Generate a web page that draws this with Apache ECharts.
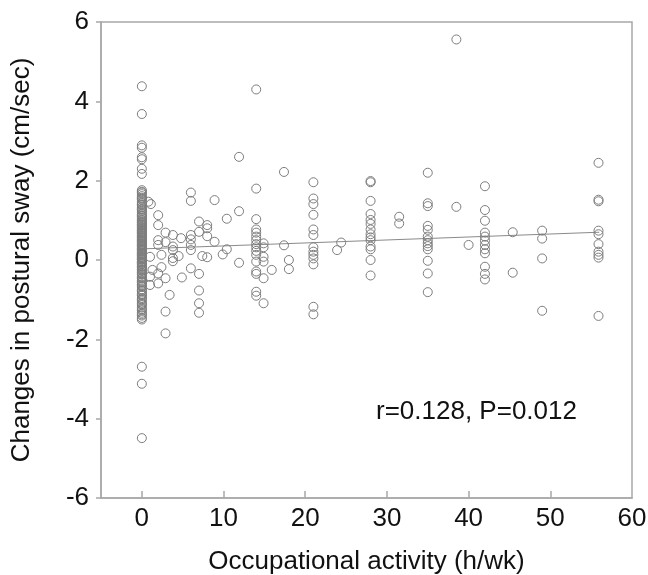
<!DOCTYPE html>
<html>
<head>
<meta charset="utf-8">
<script src="https://cdn.jsdelivr.net/npm/echarts@6/dist/echarts.min.js"></script>
<style>
html,body{margin:0;padding:0;background:#fff;}
#chart{width:648px;height:575px;}
</style>
</head>
<body>
<div id="chart"></div>
<script>
// ---- Data ----
const xTickLabels = [0, 10, 20, 30, 40, 50, 60];
const yTickLabels = [-6, -4, -2, 0, 2, 4, 6];

// column at 0 h/wk
const col0 = [4.38, 3.68, 2.89, 2.83, 2.59, 2.54, 2.30, 2.17,
  1.76, 1.70, 1.66, 1.61, 1.57, 1.52, 1.47, 1.43, 1.38, 1.33, 1.29, 1.24, 1.19, 1.15, 1.10, 1.06,
  1.02, 0.97, 0.93, 0.90, 0.86, 0.81, 0.78, 0.74, 0.70, 0.66, 0.63, 0.59, 0.55, 0.52, 0.48, 0.44,
  0.41, 0.37, 0.33, 0.30, 0.26, 0.22, 0.19, 0.15, 0.11, 0.08, 0.04, 0.01, -0.03, -0.07, -0.11,
  -0.15, -0.19, -0.23, -0.28, -0.32, -0.37, -0.42, -0.47, -0.52, -0.57, -0.62, -0.68, -0.74,
  -0.79, -0.85, -0.90, -0.96, -1.02, -1.08, -1.14, -1.20, -1.27, -1.33, -1.40, -1.46,
  -2.69, -3.12, -4.49];
// further overlapping values in the dense part of the 0 h/wk column
const col0b = [1.72, 1.55, 1.40, 1.27, 1.12, 1.00, 0.95, 0.88, 0.83, 0.76, 0.72, 0.68, 0.61,
  0.57, 0.50, 0.46, 0.39, 0.35, 0.28, 0.24, 0.17, 0.13, 0.06, 0.02, -0.05, -0.09, -0.17, -0.25,
  -0.35, -0.45, -0.55, -0.65, -0.77, -0.88, -0.99, -1.11, -1.24, -1.37, -1.50];

// scattered low-activity points [hours, change]
const lowPts = [
  [0.8, 1.47], [1.1, 1.41], [6.0, 1.70], [6.0, 1.49], [8.9, 1.51], [11.9, 2.60], [11.9, 1.23],
  [10.4, 1.04], [2.0, 1.13], [2.0, 0.88], [7.0, 0.97], [8.0, 0.88], [8.0, 0.80], [7.0, 0.71],
  [2.9, 0.69], [3.8, 0.63], [4.8, 0.55], [6.0, 0.63], [6.0, 0.52], [8.0, 0.60], [8.9, 0.46],
  [2.0, 0.50], [2.0, 0.38], [2.9, 0.45], [3.8, 0.34], [3.8, 0.25], [6.0, 0.38], [6.0, 0.25],
  [10.4, 0.27], [9.9, 0.14], [11.9, -0.07], [1.0, 0.08], [2.4, 0.13], [3.8, 0.05], [3.8, -0.03],
  [4.5, 0.10], [7.4, 0.10], [8.0, 0.07], [1.3, -0.25], [2.4, -0.18], [6.0, -0.21], [1.0, -0.42],
  [2.0, -0.34], [2.9, -0.46], [4.9, -0.44], [7.0, -0.35], [1.0, -0.63], [2.0, -0.59],
  [3.4, -0.88], [7.0, -0.77], [7.0, -1.09], [7.0, -1.33], [2.9, -1.30], [2.9, -1.85]
];

const col14 = [4.30, 1.80, 1.03, 0.77, 0.69, 0.59, 0.50, 0.40, 0.32, 0.23, 0.13, -0.04, -0.29, -0.35, -0.80, -0.90];
const col15 = [0.42, 0.32, 0.08, -0.04, -0.46, -1.09];
const midPts = [[15.9, -0.25], [17.4, 2.22], [17.4, 0.37], [18.0, 0.00], [18.0, -0.23],
  [24.4, 0.44], [23.9, 0.25], [31.5, 1.09], [31.5, 0.92], [38.5, 5.56], [38.5, 1.34], [40.0, 0.38],
  [45.4, 0.70], [45.4, -0.32]];
const col21 = [1.96, 1.55, 1.41, 1.14, 0.77, 0.63, 0.32, 0.21, 0.13, 0.04, -0.11, -1.18, -1.37];
const col28 = [1.99, 1.96, 1.49, 1.16, 1.01, 0.91, 0.77, 0.65, 0.57, 0.50, 0.34, 0.27, 0.00, -0.39];
const col35 = [2.20, 1.43, 1.36, 0.86, 0.76, 0.59, 0.50, 0.42, 0.35, 0.27, -0.02, -0.34, -0.81];
const col42 = [1.86, 1.26, 0.99, 0.69, 0.59, 0.49, 0.38, 0.27, 0.17, -0.17, -0.35, -0.49];
const col49 = [0.74, 0.54, 0.04, -1.28];
const col56 = [2.45, 1.52, 1.48, 0.74, 0.65, 0.40, 0.21, 0.13, 0.06, -1.41];

// regression line end points
const fitLine = [[0, 0.28], [56, 0.70]];
const statText = 'r=0.128, P=0.012';

// ---- Build ----
function col(x, ys) { return ys.map(y => [x, y]); }
const points = [].concat(
  col(0, col0), col(0, col0b), lowPts, col(14, col14), col(14.9, col15), midPts,
  col(21, col21), col(28, col28), col(35, col35), col(42, col42),
  col(49, col49), col(55.9, col56)
);

const FONT = "'Liberation Sans', Arial, sans-serif";
const AXIS_COLOR = '#a8a8a8';
const chart = echarts.init(document.getElementById('chart'));
chart.setOption({
  animation: false,
  backgroundColor: '#fff',
  grid: { left: 101, top: 22, width: 531, height: 476, show: true, borderColor: AXIS_COLOR, borderWidth: 1.5,
          containLabel: false, outerBoundsMode: 'none' },
  xAxis: {
    type: 'value', min: -5, max: 60,
    name: 'Occupational activity (h/wk)', nameLocation: 'middle', nameGap: 51,
    nameTextStyle: { fontFamily: FONT, fontSize: 26, color: '#111' },
    axisLine: { show: true, onZero: false, lineStyle: { color: AXIS_COLOR, width: 1.5 } },
    axisTick: { show: true, inside: true, length: 7, customValues: [0, 10, 20, 30, 40, 50], lineStyle: { color: AXIS_COLOR, width: 1.5 } },
    axisLabel: { customValues: xTickLabels, fontFamily: FONT, fontSize: 26, color: '#111', margin: 8 },
    splitLine: { show: false }
  },
  yAxis: {
    type: 'value', min: -6, max: 6, interval: 2,
    name: 'Changes in postural sway (cm/sec)', nameLocation: 'middle', nameGap: 66, nameRotate: 90,
    nameTextStyle: { fontFamily: FONT, fontSize: 26, color: '#111' },
    axisLine: { show: true, onZero: false, lineStyle: { color: AXIS_COLOR, width: 1.5 } },
    axisTick: { show: true, inside: false, length: 5, lineStyle: { color: AXIS_COLOR, width: 1.5 } },
    axisLabel: { fontFamily: FONT, fontSize: 26, color: '#111', margin: 12 },
    splitLine: { show: false }
  },
  series: [
    {
      type: 'scatter', data: points, symbol: 'circle', symbolSize: 9,
      itemStyle: { color: 'rgba(255,255,255,0)', borderColor: '#7d7d7d', borderWidth: 1, opacity: 1 },
      silent: true, z: 3
    },
    {
      type: 'line', data: fitLine, symbol: 'none',
      lineStyle: { color: '#8a8a8a', width: 1 }, silent: true, z: 2
    }
  ],
  graphic: [{
    type: 'text', left: 376, top: 399,
    style: { text: statText, font: "26px " + FONT, fill: '#111' }
  }]
});
</script>
</body>
</html>
